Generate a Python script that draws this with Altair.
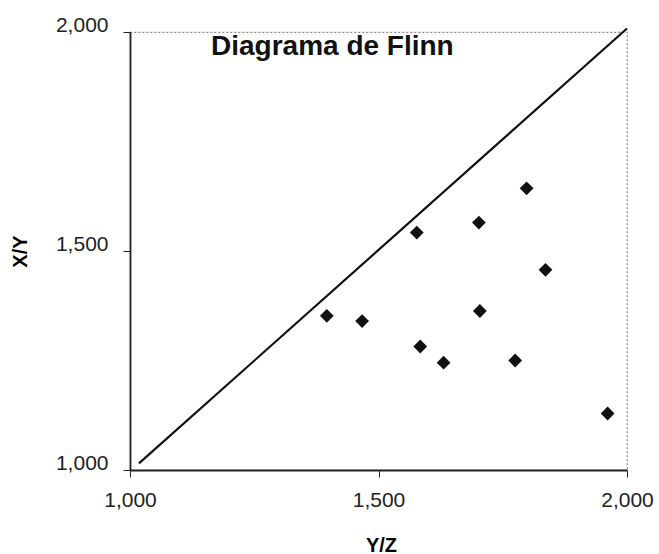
import altair as alt
import pandas as pd

# Data (Y/Z on x, X/Y on y)
yz = [1.396, 1.467, 1.577, 1.702, 1.836, 1.704, 1.584, 1.631, 1.775, 1.961, 1.798]
xy = [1.352, 1.340, 1.542, 1.565, 1.457, 1.363, 1.282, 1.245, 1.250, 1.129, 1.643]
line_x = [1.018, 2.0]
line_y = [1.015, 2.008]
tick_vals = [1.0, 1.5, 2.0]
title_text = ["Diagrama de Flinn"]

pts = pd.DataFrame({"yz": yz, "xy": xy})
ln = pd.DataFrame({"yz": line_x, "xy": line_y})
ttl = pd.DataFrame({"t": title_text})

FONT = "Liberation Sans"
label_expr = "replace(format(datum.value, '.3f'), '.', ',')"

xscale = alt.Scale(domain=[1, 2], nice=False, zero=False)
yscale = alt.Scale(domain=[1, 2], nice=False, zero=False)

xaxis = alt.Axis(values=tick_vals, labelExpr=label_expr, grid=False,
                 title="Y/Z", titleFont=FONT, titleFontSize=20, titleFontWeight="bold",
                 titleX=251, titleY=75, titleBaseline="middle", titleAlign="center",
                 labelFont=FONT, labelFontSize=21, labelColor="#222", labelPadding=12,
                 tickSize=7, tickColor="#222", domainColor="#222", domainWidth=1.8,
                 labelFlush=False)
yaxis = alt.Axis(values=tick_vals, labelExpr=label_expr, grid=False,
                 title="X/Y", titleFont=FONT, titleFontSize=20, titleFontWeight="bold",
                 titleAngle=270, titleX=-110, titleY=219, titleBaseline="middle",
                 titleAlign="center",
                 labelFont=FONT, labelFontSize=21, labelColor="#222", labelPadding=15,
                 labelOffset=-7, labelBaseline="middle",
                 tickSize=7, tickColor="#222", domainColor="#222", domainWidth=1.8,
                 labelFlush=False)

line = alt.Chart(ln).mark_line(color="#111", strokeWidth=2.2, clip=False).encode(
    x=alt.X("yz:Q", scale=xscale, axis=xaxis),
    y=alt.Y("xy:Q", scale=yscale, axis=yaxis),
)

points = alt.Chart(pts).mark_point(shape="diamond", filled=True, color="#111",
                                   size=190, opacity=1).encode(
    x=alt.X("yz:Q", scale=xscale),
    y=alt.Y("xy:Q", scale=yscale),
)

title = alt.Chart(ttl).mark_text(align="left", baseline="alphabetic", font=FONT,
                                 fontSize=28, fontWeight="bold", color="#111").encode(
    text="t:N",
    x=alt.value(81),
    y=alt.value(23),
)

chart = alt.layer(line, points, title).properties(
    width=497, height=438,
    autosize=alt.AutoSizeParams(type="none"),
    padding={"left": 130, "top": 32, "right": 32, "bottom": 84},
    background="white",
).configure_view(
    stroke="#888", strokeDash=[2, 2], strokeWidth=1.2
)

chart.save("out.html", embed_options={"renderer": "svg", "actions": False})
